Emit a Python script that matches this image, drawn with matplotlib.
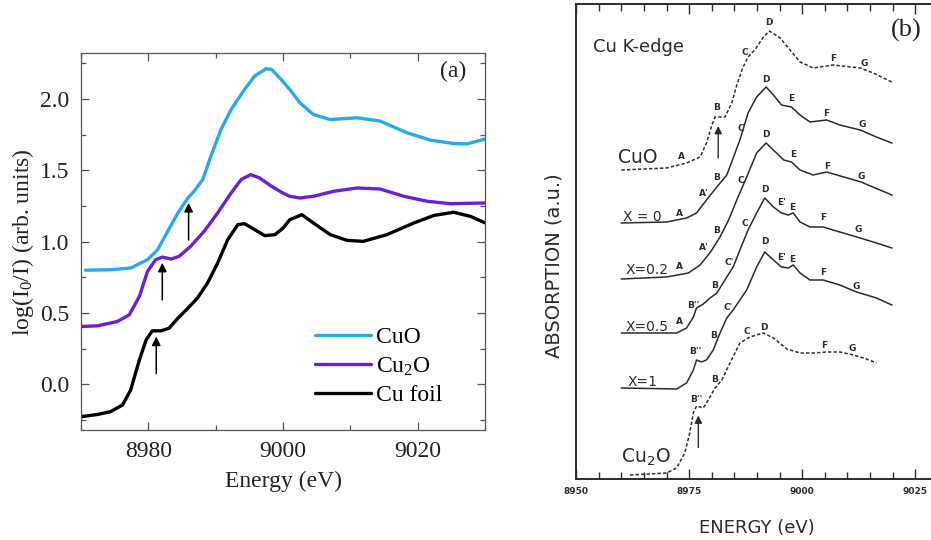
import matplotlib
matplotlib.use("Agg")
import matplotlib.pyplot as plt
import numpy as np
from matplotlib.ticker import MultipleLocator, FormatStrFormatter

plt.rcParams['font.family'] = ['Liberation Serif', 'DejaVu Serif']
plt.rcParams['mathtext.default'] = 'regular'

# ---------------- panel (a): measured spectra ----------------
cuo_e = [8970.7, 8974.4, 8977.4, 8979.9, 8981.4, 8982.9, 8984.4, 8985.9, 8986.8, 8988.1,
         8989.3, 8990.8, 8992.3, 8994.3, 8995.8, 8997.5, 8998.3, 8999.6, 9001.0, 9002.5,
         9004.5, 9007.0, 9011.0, 9014.4, 9018.4, 9021.9, 9025.3, 9027.3, 9030.0]
cuo_a = [0.800, 0.803, 0.815, 0.873, 0.943, 1.072, 1.201, 1.306, 1.353, 1.435,
         1.599, 1.786, 1.926, 2.067, 2.161, 2.212, 2.207, 2.143, 2.067, 1.973,
         1.891, 1.856, 1.868, 1.845, 1.763, 1.711, 1.688, 1.685, 1.720]

cu2o_e = [8970.0, 8972.5, 8975.4, 8977.2, 8978.7, 8979.9, 8981.1, 8982.1, 8983.4, 8984.6,
          8986.3, 8988.3, 8990.3, 8992.3, 8993.8, 8995.2, 8996.5, 8998.3, 9000.0, 9001.0,
          9002.5, 9004.5, 9007.5, 9011.0, 9014.4, 9017.9, 9021.4, 9024.8, 9030.0]
cu2o_a = [0.405, 0.410, 0.440, 0.487, 0.616, 0.791, 0.873, 0.892, 0.878, 0.897,
          0.967, 1.072, 1.201, 1.341, 1.435, 1.470, 1.447, 1.388, 1.340, 1.318,
          1.306, 1.318, 1.353, 1.376, 1.369, 1.318, 1.283, 1.266, 1.271]

cufoil_e = [8970.0, 8972.5, 8974.4, 8976.2, 8977.4, 8978.7, 8979.7, 8980.6, 8981.9, 8983.1,
            8984.4, 8985.9, 8987.3, 8988.8, 8990.3, 8991.8, 8993.3, 8994.3, 8995.8, 8997.3,
            8998.8, 9000.0, 9001.0, 9002.8, 9004.5, 9007.0, 9009.5, 9011.9, 9015.4, 9019.4,
            9022.4, 9025.3, 9027.8, 9030.0]
cufoil_a = [-0.227, -0.211, -0.192, -0.145, -0.040, 0.171, 0.311, 0.375, 0.375, 0.393,
            0.463, 0.534, 0.604, 0.709, 0.850, 1.014, 1.119, 1.126, 1.084, 1.042,
            1.049, 1.095, 1.154, 1.189, 1.131, 1.049, 1.009, 1.002, 1.049, 1.131,
            1.184, 1.206, 1.177, 1.131]

names_a = ['CuO', 'Cu$_2$O', 'Cu foil']
colors_a = ['#2aa8ef', '#6a1fd8', '#000000']
arrow_e_a = [8986.0, 8982.1, 8981.2]   # pre-edge features marked by arrows

# ---------------- panel (b): reproduced literature spectra ----------------
b_cuo_e = [8960.0, 8970.0, 8974.4, 8977.4, 8978.8, 8980.0, 8980.7, 8982.9, 8984.4, 8985.5,
           8986.9, 8988.0, 8989.5, 8991.4, 8992.7, 8995.1, 8997.3, 8999.5, 9002.4, 9006.8,
           9012.8, 9015.7, 9019.8]
b_cuo_a = [30.9, 31.1, 31.6, 32.2, 33.6, 35.4, 36.2, 36.2, 37.6, 39.4,
           41.2, 42.2, 42.9, 44.2, 44.8, 44.1, 42.9, 41.7, 41.1, 41.4,
           41.1, 40.6, 39.7]

b_x0_e = [8960.0, 8970.0, 8974.4, 8976.6, 8978.8, 8981.1, 8983.3, 8986.2, 8988.0, 8989.9,
          8992.0, 8993.6, 8995.4, 8997.6, 8999.5, 9001.7, 9005.4, 9008.3, 9012.8, 9016.4,
          9019.8]
b_x0_a = [25.6, 25.7, 26.1, 26.6, 27.9, 29.2, 30.4, 33.9, 36.6, 38.2,
          39.2, 38.4, 37.4, 37.2, 36.4, 35.7, 35.9, 35.4, 34.9, 34.2,
          33.6]

b_x02_e = [8960.0, 8970.0, 8974.8, 8977.4, 8979.7, 8981.8, 8983.7, 8985.5, 8987.7, 8989.9,
           8992.0, 8993.6, 8995.9, 8997.6, 8999.5, 9002.4, 9005.4, 9013.0, 9019.8]
b_x02_a = [20.0, 20.2, 20.6, 21.4, 22.7, 24.2, 25.9, 27.9, 30.2, 32.6,
           33.6, 32.9, 31.9, 31.7, 30.9, 30.4, 30.7, 29.7, 28.4]

b_x05_e = [8960.0, 8970.0, 8972.2, 8974.4, 8975.9, 8976.6, 8978.1, 8979.6, 8981.1, 8983.3,
           8984.7, 8986.2, 8988.0, 8989.9, 8991.7, 8993.6, 8995.4, 8996.9, 8998.0, 8999.5,
           9001.7, 9004.6, 9008.3, 9012.8, 9016.4, 9019.8]
b_x05_a = [14.6, 14.6, 14.6, 15.1, 16.2, 17.1, 17.5, 18.1, 18.6, 20.2,
           21.2, 22.9, 24.9, 26.6, 28.1, 27.2, 26.6, 26.4, 26.6, 25.7,
           25.2, 25.2, 24.7, 24.1, 23.6, 23.1]

b_x1_e = [8960.0, 8972.2, 8974.4, 8975.9, 8976.6, 8977.7, 8978.8, 8980.3, 8981.8, 8983.3,
          8984.7, 8986.2, 8987.7, 8989.9, 8991.7, 8993.6, 8995.4, 8996.9, 8998.0, 8999.5,
          9001.7, 9004.6, 9008.3, 9012.0, 9016.4, 9019.8]
b_x1_a = [9.1, 9.0, 9.6, 10.9, 11.9, 11.7, 11.9, 12.9, 14.6, 16.1,
          16.9, 17.9, 18.9, 21.2, 22.7, 21.9, 21.2, 21.1, 21.4, 20.6,
          19.9, 19.9, 19.4, 18.7, 18.1, 17.4]

b_cu2o_e = [8961.9, 8970.0, 8972.2, 8974.0, 8975.1, 8975.9, 8976.6, 8978.1, 8979.2, 8980.7,
            8982.2, 8984.0, 8986.2, 8988.4, 8991.4, 8993.6, 8996.6, 8999.5, 9002.4, 9005.4,
            9008.3, 9011.3, 9014.2, 9016.4]
b_cu2o_a = [0.4, 0.6, 1.1, 2.6, 4.6, 6.6, 7.3, 7.1, 7.9, 9.1,
            9.9, 11.6, 13.6, 14.2, 14.6, 14.1, 13.0, 12.6, 12.6, 12.7,
            12.7, 12.4, 12.0, 11.6]

names_b = ['CuO', 'X = 0', 'X=0.2', 'X=0.5', 'X=1', 'Cu$_2$O']
dashed_b = [True, False, False, False, False, True]
# feature letters: (letter, energy, height above curve)
feat_cuo = [('A', 8973.2, 0.8), ('B', 8981.1, 0.9), ('C', 8987.2, 1.2), ('D', 8992.7, 0.8),
            ('F', 9006.8, 0.6), ('G', 9013.8, 0.6)]
feat_x0 = [('A', 8972.9, 0.6), ('A\'', 8978.3, 0.9), ('B', 8981.0, 1.0), ('C', 8986.3, 1.0),
           ('D', 8992.0, 0.7), ('E', 8997.6, 0.8), ('F', 9005.2, 0.7), ('G', 9013.3, 0.6)]
feat_x02 = [('A', 8972.9, 0.8), ('A\'', 8978.3, 1.2), ('B', 8981.0, 1.2), ('C', 8986.4, 1.0),
            ('D', 8992.0, 0.8), ('E', 8998.0, 0.9), ('F', 9005.4, 0.5), ('G', 9013.0, 0.5)]
feat_x05 = [('A', 8972.9, 1.0), ('B\'\'', 8976.0, 1.0), ('B', 8980.5, 0.9), ('C\'', 8983.8, 1.1),
            ('C', 8987.2, 1.5), ('D', 8991.7, 0.8), ('E\'', 8995.4, 1.0), ('E', 8997.8, 0.6),
            ('F', 9004.6, 0.9), ('G', 9012.4, 0.8)]
feat_x1 = [('B\'\'', 8976.3, 1.3), ('B', 8980.4, 1.3), ('C\'', 8983.6, 0.9), ('D', 8991.7, 1.0),
           ('E\'', 8995.4, 0.9), ('E', 8997.8, 0.6), ('F', 9004.6, 0.7), ('G', 9012.0, 0.5)]
feat_cu2o = [('B\'\'', 8976.6, 0.6), ('B', 8980.7, 0.8), ('C', 8987.7, 0.7), ('D', 8991.4, 0.5),
             ('F', 9004.8, 0.7), ('G', 9011.1, 0.6)]
arrow_e_b = {0: 8981.4, 5: 8977.0}

series_b = [(b_cuo_e, b_cuo_a, feat_cuo), (b_x0_e, b_x0_a, feat_x0), (b_x02_e, b_x02_a, feat_x02),
            (b_x05_e, b_x05_a, feat_x05), (b_x1_e, b_x1_a, feat_x1), (b_cu2o_e, b_cu2o_a, feat_cu2o)]

fig = plt.figure(figsize=(9.31, 5.40), dpi=100)

# ---------------- draw (a) ----------------
ax = fig.add_axes([0.0867, 0.2037, 0.4346, 0.6976])
for e, a, name, c in zip([cuo_e, cu2o_e, cufoil_e], [cuo_a, cu2o_a, cufoil_a], names_a, colors_a):
    ax.plot(e, a, color=c, lw=2.4, label=name, solid_capstyle='round', solid_joinstyle='round')
for e, a, ea in zip([cuo_e, cu2o_e, cufoil_e], [cuo_a, cu2o_a, cufoil_a], arrow_e_a):
    tip = np.interp(ea, e, a) - 0.04
    ax.annotate('', xy=(ea, tip), xytext=(ea, tip - 0.26),
                arrowprops=dict(arrowstyle='-|>', color='black', lw=1.1,
                                mutation_scale=13, shrinkA=0, shrinkB=0))
ax.set_xlim(8970, 9030)
ax.set_ylim(-0.32, 2.32)
ax.xaxis.set_major_locator(MultipleLocator(20))
ax.xaxis.set_minor_locator(MultipleLocator(10))
ax.yaxis.set_major_locator(MultipleLocator(0.5))
ax.yaxis.set_minor_locator(MultipleLocator(0.25))
ax.yaxis.set_major_formatter(FormatStrFormatter('%.1f'))
ax.tick_params(which='both', direction='in', top=True, right=True, color='#555555',
               labelsize=17, labelcolor='#222222', width=0.9)
ax.tick_params(which='major', length=6, pad=8)
ax.tick_params(which='minor', length=3.5)
for s in ax.spines.values():
    s.set_color('#555555')
    s.set_linewidth(0.9)
ax.set_xlabel('Energy (eV)', fontsize=17, color='#222222', labelpad=6)
ax.set_ylabel('log(I$_0$/I) (arb. units)', fontsize=17, color='#222222')
ax.yaxis.set_label_coords(-0.11, 0.5)
ax.text(0.888, 0.951, '(a)', transform=ax.transAxes, fontsize=17, va='center', color='#222222')
ax.legend(loc='upper left', bbox_to_anchor=(0.578, 0.274), frameon=False, fontsize=17,
          handlelength=2.4, handletextpad=0.2, labelspacing=0.3, borderpad=0, borderaxespad=0)

# ---------------- draw (b) ----------------
bx = fig.add_axes([0.619, 0.113, 0.3884, 0.8796])
ink = '#2b2b2b'
for i, ((e, a, feats), name, dashed) in enumerate(zip(series_b, names_b, dashed_b)):
    ls = (0, (2.2, 1.4)) if dashed else '-'
    bx.plot(e, a, color=ink, lw=1.1, ls=ls)
    for letter, le, dy in feats:
        bx.text(le, np.interp(le, e, a) + dy, letter, fontsize=6.5, family='DejaVu Sans',
                fontweight='bold', color=ink, ha='center', va='center')
    if i in arrow_e_b:
        ea = arrow_e_b[i]
        tip = np.interp(ea, e, a) - 0.9
        bx.annotate('', xy=(ea, tip), xytext=(ea, tip - 3.2),
                    arrowprops=dict(arrowstyle='-|>', color=ink, lw=1.0,
                                    mutation_scale=11, shrinkA=0, shrinkB=0))

name_fs = [13.5, 10, 10, 10, 10, 13.5]
name_dx = [-0.7, 0.3, 0.8, 0.8, 1.4, -1.9]
name_dy = [1.2, 0.6, 0.9, 0.6, 0.6, 1.8]
for (e, a, _), name, fs, dx, dy in zip(series_b, names_b, name_fs, name_dx, name_dy):
    bx.text(e[0] + dx, a[0] + dy, name, fontsize=fs, family='DejaVu Sans', color=ink,
            ha='left', va='center')

bx.text(8953.7, 43.2, 'Cu K-edge', fontsize=13, family='DejaVu Sans', color=ink, va='center')
bx.text(9019.6, 44.9, '(b)', fontsize=19, color='#222222', va='center')

bx.set_xlim(8950, 9030)
bx.set_ylim(0, 47.5)
bx.xaxis.set_major_locator(MultipleLocator(25))
bx.xaxis.set_minor_locator(MultipleLocator(5))
bx.tick_params(which='both', direction='in', top=True, left=False, labelleft=False,
               color=ink, width=1.0, labelsize=6.5, labelcolor=ink, labelfontfamily='DejaVu Sans')
bx.tick_params(which='major', length=7, pad=6)
bx.tick_params(which='minor', length=5)
for lab in bx.get_xticklabels():
    lab.set_fontweight('bold')
for s in bx.spines.values():
    s.set_color(ink)
    s.set_linewidth(1.4)
bx.set_xlabel('ENERGY (eV)', fontsize=13, family='DejaVu Sans', color=ink, labelpad=16)
bx.set_ylabel('ABSORPTION (a.u.)', fontsize=14, family='DejaVu Sans', color=ink)
bx.yaxis.set_label_coords(-0.034, 0.45)

fig.savefig('out.png', dpi=100)
plt.close(fig)
